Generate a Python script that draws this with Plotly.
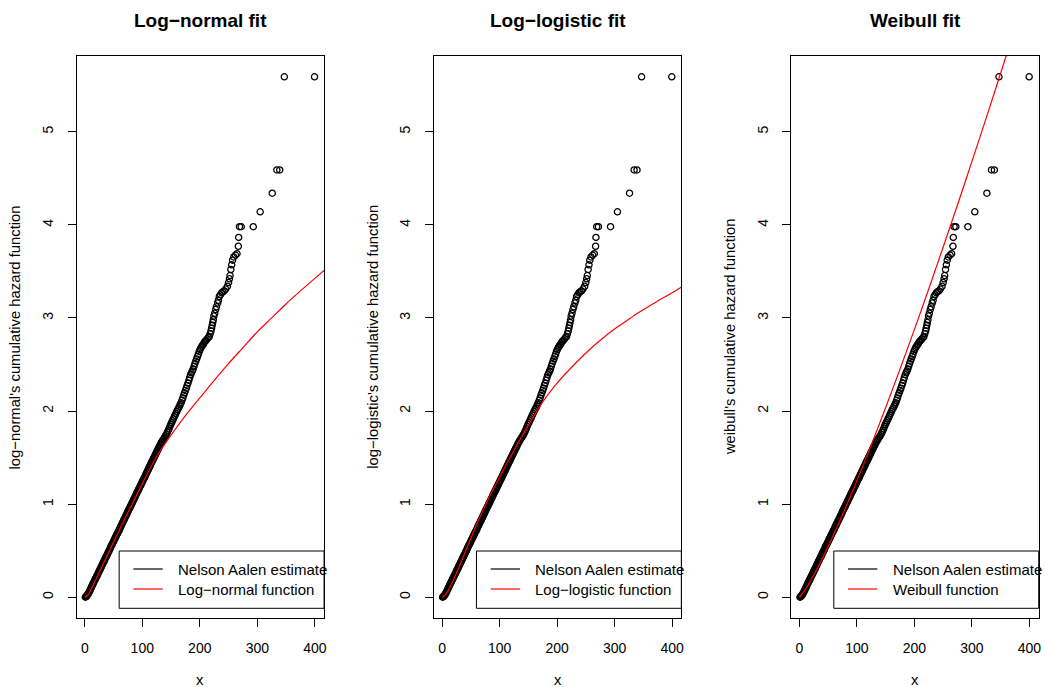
import plotly.graph_objects as go

# ---------------- data ----------------
# Nelson-Aalen estimate: event time and cumulative hazard
na_time = [
    1, 2, 3, 4, 5, 6, 7, 8, 9, 10,
    11, 12, 13, 14, 15, 16, 17, 18, 19, 20,
    21, 22, 23, 24, 25, 26, 27, 28, 29, 30,
    31, 32, 33, 34, 35, 36, 37, 38, 39, 40,
    41, 42, 43, 44, 45, 46, 47, 48, 49, 50,
    51, 52, 53, 54, 55, 56, 57, 58, 59, 60,
    61, 62, 63, 64, 65, 66, 67, 68, 69, 70,
    71, 72, 73, 74, 75, 76, 77, 78, 79, 80,
    81, 82, 83, 84, 85, 86, 87, 88, 89, 90,
    91, 92, 93, 94, 95, 96, 97, 98, 99, 100,
    101, 102, 103, 104, 105, 106, 107, 108, 109, 110,
    111, 112, 113, 114, 115, 116, 117, 118, 119, 120,
    121, 122, 123, 124, 125, 126, 127, 128, 129, 130,
    131.5, 133, 134.5, 136, 137.5, 139, 140.5, 142, 143.5, 145,
    146.5, 148, 149.5, 151, 152.5, 154, 155.5, 157, 158.5, 160,
    161.5, 163, 164.5, 166, 167.5, 169, 170.5, 172, 173.5, 175,
    176.5, 178, 179.5, 181, 182.5, 184, 185.5, 187, 188.5, 190,
    191.5, 193, 194.5, 196, 197.5, 199, 200.5, 202, 203.5, 205,
    206.5, 208, 209.5, 211, 213, 215, 216.5, 218, 219.5,
    220.5, 221.5, 222.5, 223.5, 224.5, 226, 227.5, 229, 231, 232.5,
    234, 236, 238, 240, 242.5, 245, 248, 250, 251.5, 252.6,
    254, 255.5, 257, 259, 262, 264.7, 267, 267.6, 269, 272,
    293, 305, 326, 334, 339, 347, 399.5,
]
na_cumhaz = [
    0.000, 0.005, 0.010, 0.018, 0.027, 0.037, 0.048, 0.060, 0.073, 0.087,
    0.100, 0.113, 0.127, 0.140, 0.153, 0.165, 0.178, 0.190, 0.203, 0.215,
    0.228, 0.240, 0.253, 0.266, 0.279, 0.292, 0.304, 0.317, 0.330, 0.343,
    0.356, 0.369, 0.381, 0.394, 0.407, 0.423, 0.433, 0.445, 0.458, 0.471,
    0.484, 0.497, 0.509, 0.522, 0.537, 0.552, 0.561, 0.573, 0.586, 0.599,
    0.612, 0.625, 0.637, 0.650, 0.663, 0.676, 0.689, 0.701, 0.712, 0.722,
    0.738, 0.753, 0.765, 0.778, 0.791, 0.804, 0.817, 0.829, 0.842, 0.855,
    0.868, 0.881, 0.893, 0.906, 0.921, 0.936, 0.946, 0.957, 0.970, 0.983,
    0.996, 1.009, 1.021, 1.034, 1.047, 1.060, 1.073, 1.085, 1.100, 1.115,
    1.126, 1.137, 1.149, 1.162, 1.175, 1.188, 1.201, 1.213, 1.226, 1.239,
    1.252, 1.265, 1.276, 1.286, 1.301, 1.316, 1.329, 1.341, 1.354, 1.367,
    1.380, 1.393, 1.405, 1.418, 1.433, 1.448, 1.458, 1.469, 1.482, 1.495,
    1.508, 1.521, 1.533, 1.546, 1.559, 1.572, 1.585, 1.597, 1.610, 1.623,
    1.640, 1.660, 1.675, 1.690, 1.705, 1.720, 1.735, 1.750, 1.770, 1.790,
    1.810, 1.835, 1.855, 1.875, 1.895, 1.915, 1.935, 1.955, 1.975, 1.995,
    2.015, 2.030, 2.050, 2.070, 2.090, 2.115, 2.140, 2.170, 2.195, 2.220,
    2.245, 2.275, 2.300, 2.330, 2.360, 2.390, 2.410, 2.430, 2.450, 2.480,
    2.510, 2.535, 2.560, 2.585, 2.610, 2.640, 2.660, 2.680, 2.695, 2.710,
    2.720, 2.740, 2.750, 2.760, 2.775, 2.790, 2.800, 2.830, 2.860,
    2.890, 2.920, 2.950, 2.980, 3.020, 3.050, 3.090, 3.120, 3.160, 3.190,
    3.230, 3.250, 3.270, 3.280, 3.290, 3.310, 3.340, 3.380, 3.420, 3.455,
    3.520, 3.570, 3.620, 3.655, 3.675, 3.690, 3.770, 3.865, 3.980, 3.980,
    3.980, 4.140, 4.340, 4.590, 4.590, 5.590, 5.590,
]
assert len(na_time) == len(na_cumhaz)

# fitted cumulative hazard curves
lognormal_x = [0, 5, 10, 20, 40, 60, 80, 100, 124, 150, 175, 200, 225, 250, 275, 300, 325, 350, 375, 400, 416]
lognormal_y = [0, 0.02, 0.07, 0.20, 0.46, 0.72, 0.97, 1.22, 1.50, 1.74, 1.95, 2.14, 2.33, 2.51, 2.68, 2.85, 3.00, 3.15, 3.29, 3.425, 3.51]

loglogistic_x = [0, 5, 10, 20, 30, 40, 50, 60, 80, 100, 120, 140, 160, 180, 200, 230, 260, 280, 300, 320, 340, 360, 380, 400, 416]
loglogistic_y = [0, 0.02, 0.065, 0.19, 0.33, 0.48, 0.63, 0.78, 1.05, 1.29, 1.52, 1.74, 1.95, 2.14, 2.30, 2.50, 2.68, 2.785, 2.88, 2.965, 3.05, 3.125, 3.20, 3.27, 3.33]

weibull_x = [0, 10, 20, 40, 60, 80, 100, 125, 150, 175, 200, 225, 250, 275, 300, 325, 350, 375]
weibull_y = [0, 0.079, 0.182, 0.417, 0.678, 0.958, 1.252, 1.637, 2.037, 2.451, 2.877, 3.314, 3.762, 4.216, 4.681, 5.152, 5.631, 6.117]

titles = ["Log\u2212normal fit", "Log\u2212logistic fit", "Weibull fit"]
y_titles = [
    "log\u2212normal's cumulative hazard function",
    "log\u2212logistic's cumulative hazard function",
    "weibull's cumulative hazard function",
]
fit_labels = ["Log\u2212normal function", "Log\u2212logistic function", "Weibull function"]
estimate_label = "Nelson Aalen estimate"
x_ticks = [0, 100, 200, 300, 400]
y_ticks = [0, 1, 2, 3, 4, 5]

fits = [(lognormal_x, lognormal_y), (loglogistic_x, loglogistic_y), (weibull_x, weibull_y)]

# ---------------- layout geometry ----------------
W, H = 1045, 687
FONT = "Liberation Sans, Arial, Helvetica, sans-serif"
PLOT_LEFT = [77.0, 435.3, 793.7]
PLOT_W = 248.0
PLOT_TOP, PLOT_BOTTOM = 56.0, 618.0
X_RANGE = [-13.9, 416.1]
Y_RANGE = [-0.2236, 5.8136]


def px(v):
    return v / W


def py(v):
    return 1 - v / H


fig = go.Figure()
layout = dict(
    width=W, height=H,
    margin=dict(l=0, r=0, t=0, b=0),
    paper_bgcolor="white", plot_bgcolor="white",
    showlegend=False,
    font=dict(family=FONT, color="black", size=14),
)
annotations = []
shapes = []

for i in range(3):
    n = "" if i == 0 else str(i + 1)
    left = PLOT_LEFT[i]
    fx, fy = fits[i]
    fig.add_trace(go.Scatter(
        x=na_time, y=na_cumhaz, mode="markers",
        marker=dict(symbol="circle-open", size=6.2, color="black", line=dict(width=1.3, color="black")),
        xaxis="x" + n, yaxis="y" + n, cliponaxis=True, hoverinfo="skip",
    ))
    fig.add_trace(go.Scatter(
        x=fx, y=fy, mode="lines",
        line=dict(color="#FF0000", width=1.2, shape="spline", smoothing=0.8),
        xaxis="x" + n, yaxis="y" + n, hoverinfo="skip",
    ))
    common = dict(
        showline=True, linecolor="black", linewidth=1, mirror=True,
        showgrid=False, zeroline=False,
        ticks="outside", ticklen=8, tickwidth=1, tickcolor="black",
        tickfont=dict(family=FONT, size=14, color="black"),
    )
    layout["xaxis" + n] = dict(
        domain=[px(left), px(left + PLOT_W)], range=X_RANGE, anchor="y" + n,
        tickvals=x_ticks, ticklabelstandoff=9, **common,
    )
    layout["yaxis" + n] = dict(
        domain=[py(PLOT_BOTTOM), py(PLOT_TOP)], range=Y_RANGE, anchor="x" + n,
        tickvals=y_ticks, tickangle=-90, ticklabelstandoff=9, **common,
    )
    # titles
    annotations.append(dict(
        text="<b>" + titles[i] + "</b>", x=px(left + PLOT_W / 2), y=py(20.7),
        xref="paper", yref="paper", xanchor="center", yanchor="middle",
        showarrow=False, font=dict(family=FONT, size=19, color="black"),
    ))
    annotations.append(dict(
        text="x", x=px(left + PLOT_W / 2), y=py(680),
        xref="paper", yref="paper", xanchor="center", yanchor="middle",
        showarrow=False, font=dict(family=FONT, size=14.8, color="black"),
    ))
    annotations.append(dict(
        text=y_titles[i], x=px(left - 61.5), y=py(337), textangle=-90,
        xref="paper", yref="paper", xanchor="center", yanchor="middle",
        showarrow=False, font=dict(family=FONT, size=14.8, color="black"),
    ))
    # legend box
    shapes.append(dict(
        type="rect", xref="paper", yref="paper",
        x0=px(left + 42.5), x1=px(left + PLOT_W), y0=py(608.3), y1=py(551),
        line=dict(color="black", width=1), fillcolor="white", layer="above",
    ))
    for yy, col, lab in [(569, "black", estimate_label), (589, "#FF0000", fit_labels[i])]:
        shapes.append(dict(
            type="line", xref="paper", yref="paper",
            x0=px(left + 56.8), x1=px(left + 86.2), y0=py(yy), y1=py(yy),
            line=dict(color=col, width=1.2), layer="above",
        ))
        annotations.append(dict(
            text=lab, x=px(left + 99.7), y=py(yy),
            xref="paper", yref="paper", xanchor="left", yanchor="middle",
            showarrow=False, font=dict(family=FONT, size=15, color="black"),
        ))

layout["annotations"] = annotations
layout["shapes"] = shapes
fig.update_layout(**layout)
fig.write_html(
    "out.html",
    config={"displayModeBar": False, "staticPlot": True},
    post_script="document.body.style.margin='0';document.body.style.padding='0';",
)
